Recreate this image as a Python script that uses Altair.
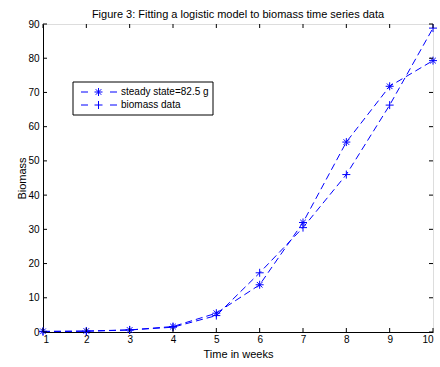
import altair as alt
import pandas as pd

weeks = [1, 2, 3, 4, 5, 6, 7, 8, 9, 10]
steady = [0.2, 0.3, 0.6, 1.6, 5.5, 13.8, 32.0, 55.5, 71.8, 79.3]
biomass = [0.1, 0.2, 0.6, 1.4, 4.8, 17.3, 30.5, 46.0, 66.3, 88.8]
series_names = ["steady state=82.5 g", "biomass data"]
x_ticks = [1, 2, 3, 4, 5, 6, 7, 8, 9, 10]
y_ticks = [0, 10, 20, 30, 40, 50, 60, 70, 80, 90]

W, H = 390, 308
BLUE = "#0000ff"
FONT = "Liberation Sans"
ASTERISK = "M0,-1L0,1M-1,0L1,0M-0.7,-0.7L0.7,0.7M-0.7,0.7L0.7,-0.7"
PLUS = "M-1,0L1,0M0,-1L0,1"

df = pd.DataFrame({
    "week": weeks * 2,
    "value": steady + biomass,
    "series": [series_names[0]] * len(weeks) + [series_names[1]] * len(weeks),
})

xs = alt.Scale(domain=[1, 10], nice=False, zero=False)
ys = alt.Scale(domain=[0, 90], nice=False)

axis_style = dict(format="d", ticks=False, grid=False, domainColor="black", domainWidth=1,
                  labelFont=FONT, labelFontSize=10, labelColor="black",
                  titleFont=FONT, titleFontSize=11, titleFontWeight="normal", titleColor="black")
xaxis = alt.Axis(values=x_ticks, title="Time in weeks", labelPadding=2, titlePadding=4, **axis_style)
yaxis = alt.Axis(values=y_ticks, title="Biomass", labelPadding=4, titlePadding=0, **axis_style)

base = alt.Chart(df)
lines = base.mark_line(color=BLUE, strokeDash=[7, 4], strokeWidth=1).encode(
    x=alt.X("week:Q", scale=xs, axis=xaxis),
    y=alt.Y("value:Q", scale=ys, axis=yaxis),
    detail="series:N",
)
points = base.mark_point(color=BLUE, filled=False, strokeWidth=1, size=64, opacity=1).encode(
    x=alt.X("week:Q", scale=xs, axis=xaxis),
    y=alt.Y("value:Q", scale=ys, axis=yaxis),
    shape=alt.Shape("series:N", scale=alt.Scale(domain=series_names, range=[ASTERISK, PLUS]), legend=None),
)

xt = alt.Chart(pd.DataFrame({"week": x_ticks}))
yt = alt.Chart(pd.DataFrame({"value": y_ticks}))
TL = 4
tick_layers = [
    xt.mark_rule(color="black", strokeWidth=1).encode(x=alt.X("week:Q", scale=xs, axis=xaxis), y=alt.value(H), y2=alt.value(H - TL)),
    xt.mark_rule(color="black", strokeWidth=1).encode(x=alt.X("week:Q", scale=xs, axis=xaxis), y=alt.value(0), y2=alt.value(TL)),
    yt.mark_rule(color="black", strokeWidth=1).encode(y=alt.Y("value:Q", scale=ys, axis=yaxis), x=alt.value(0), x2=alt.value(TL)),
    yt.mark_rule(color="black", strokeWidth=1).encode(y=alt.Y("value:Q", scale=ys, axis=yaxis), x=alt.value(W), x2=alt.value(W - TL)),
]

one = alt.Chart(pd.DataFrame({"a": [0]}))
legend_layers = [
    one.mark_rect(fill="white", stroke="black", strokeWidth=1).encode(
        x=alt.value(30), x2=alt.value(170), y=alt.value(58), y2=alt.value(91)),
]
shapes = [ASTERISK, PLUS]
for i, name in enumerate(series_names):
    yy = 68 + i * 13
    legend_layers += [
        one.mark_rule(color=BLUE, strokeWidth=1).encode(x=alt.value(38), x2=alt.value(45), y=alt.value(yy)),
        one.mark_rule(color=BLUE, strokeWidth=1).encode(x=alt.value(67), x2=alt.value(74), y=alt.value(yy)),
        one.mark_point(color=BLUE, filled=False, strokeWidth=1, size=64, opacity=1, shape=shapes[i]).encode(
            x=alt.value(55.5), y=alt.value(yy)),
        one.mark_text(text=name, align="left", baseline="middle", font=FONT, fontSize=10, color="black").encode(
            x=alt.value(78), y=alt.value(yy)),
    ]

chart = alt.layer(lines, points, *tick_layers, *legend_layers).properties(
    width=W, height=H,
    title=alt.TitleParams("Figure 3: Fitting a logistic model to biomass time series data",
                          font=FONT, fontSize=11, fontWeight="normal", color="black", offset=-1, anchor="middle"),
    autosize=alt.AutoSizeParams(type="none"),
    padding={"left": 43, "top": 24, "right": 7, "bottom": 35},
).configure_view(stroke="black", strokeWidth=1).configure(background="white")

chart.save("out.html", embed_options={"renderer": "svg", "actions": False})
